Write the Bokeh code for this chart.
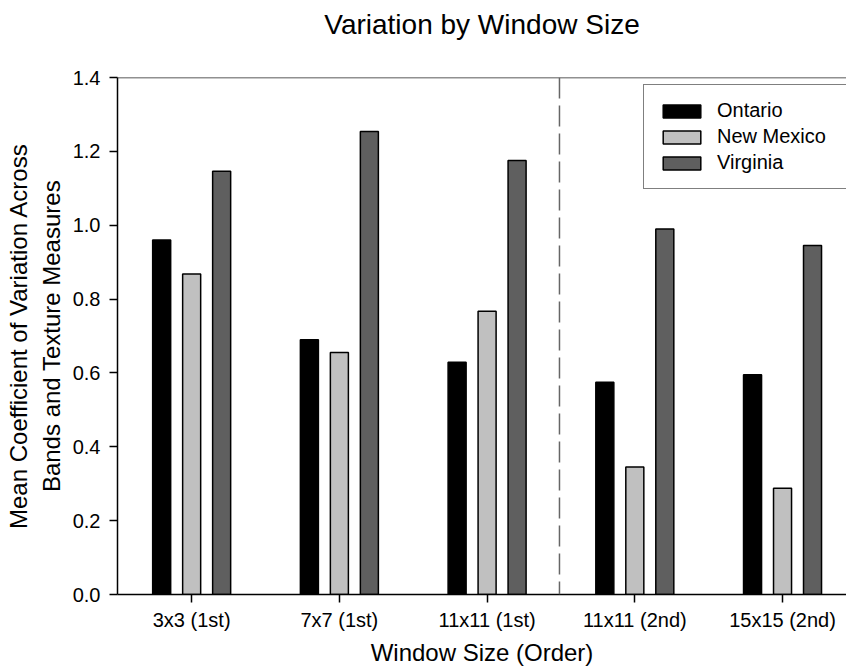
import numpy as np
from bokeh.plotting import figure
from bokeh.models import Range1d, FixedTicker, PrintfTickFormatter, Span, Legend, LegendItem, Title
from bokeh.embed import file_html
from bokeh.resources import INLINE

categories = ["3x3 (1st)", "7x7 (1st)", "11x11 (1st)", "11x11 (2nd)", "15x15 (2nd)"]
ontario = [0.960, 0.690, 0.629, 0.575, 0.595]
new_mexico = [0.868, 0.655, 0.767, 0.345, 0.288]
virginia = [1.146, 1.254, 1.175, 0.990, 0.945]
series_names = ["Ontario", "New Mexico", "Virginia"]
series_colors = ["#000000", "#c0c0c0", "#5f5f5f"]
y_ticks = [0.0, 0.2, 0.4, 0.6, 0.8, 1.0, 1.2, 1.4]
title_text = "Variation by Window Size"

FONT = "Liberation Sans"

p = figure(width=846, height=669, output_backend="svg", toolbar_location=None, title=None,
           x_range=Range1d(-0.502, 4.433), y_range=Range1d(0, 1.4),
           min_border_left=117, min_border_right=0, min_border_top=77, min_border_bottom=75)

p.grid.visible = False
p.outline_line_color = None
p.background_fill_color = "white"
p.border_fill_color = "white"

# spacer between frame and title, then the title itself
p.add_layout(Title(text=" ", text_font_size="2px", standoff=34), "above")
p.add_layout(Title(text=title_text, text_font=FONT, text_font_size="28px",
                   text_font_style="normal", text_color="#000000", align="center",
                   vertical_align="bottom", standoff=0, offset=0), "above")

xpos = np.arange(len(categories))
offsets = [-0.203, 0.0, 0.203]
bar_w = 0.122
items = []
for vals, name, col, off in zip([ontario, new_mexico, virginia], series_names, series_colors, offsets):
    r = p.vbar(x=xpos + off, top=vals, bottom=0, width=bar_w, fill_color=col,
               line_color="#000000", line_width=1.5)
    items.append(LegendItem(label=name, renderers=[r]))

# top border line and divider between 1st- and 2nd-order groups
p.add_layout(Span(location=1.4, dimension="width", line_color="#222222", line_width=1.5))
p.add_layout(Span(location=2.49, dimension="height", line_color="#666666", line_width=1.5,
                  line_dash="21 7"))

legend = Legend(items=items, location=(526, 405), padding=14, spacing=3,
                glyph_width=47, glyph_height=16, label_standoff=12,
                label_text_font=FONT, label_text_font_size="20px", label_width=150,
                label_text_color="#000000",
                border_line_color="#000000", border_line_width=1.5,
                background_fill_alpha=1.0, margin=0)
p.add_layout(legend)

# axes
xa = p.xaxis[0]
xa.ticker = FixedTicker(ticks=list(xpos))
xa.major_label_overrides = {int(i): c for i, c in zip(xpos, categories)}
xa.axis_label = "Window Size (Order)"
ya = p.yaxis[0]
ya.ticker = FixedTicker(ticks=y_ticks)
ya.formatter = PrintfTickFormatter(format="%.1f")
ya.axis_label = "Mean Coefficient of Variation Across\nBands and Texture Measures"

for ax in (xa, ya):
    ax.axis_line_color = "#000000"
    ax.axis_line_width = 1.5
    ax.major_tick_line_color = "#000000"
    ax.major_tick_line_width = 1.5
    ax.major_tick_in = 0
    ax.minor_tick_line_color = None
    ax.major_label_text_font = FONT
    ax.major_label_text_font_size = "20px"
    ax.major_label_text_color = "#000000"
    ax.axis_label_text_font = FONT
    ax.axis_label_text_font_size = "24px"
    ax.axis_label_text_font_style = "normal"
    ax.axis_label_text_color = "#000000"

xa.major_tick_out = 8
xa.major_label_standoff = 6
xa.axis_label_standoff = 5
ya.major_tick_out = 8
ya.major_label_standoff = 9
ya.axis_label_standoff = 5

open("out.html", "w").write(file_html(p, INLINE))
